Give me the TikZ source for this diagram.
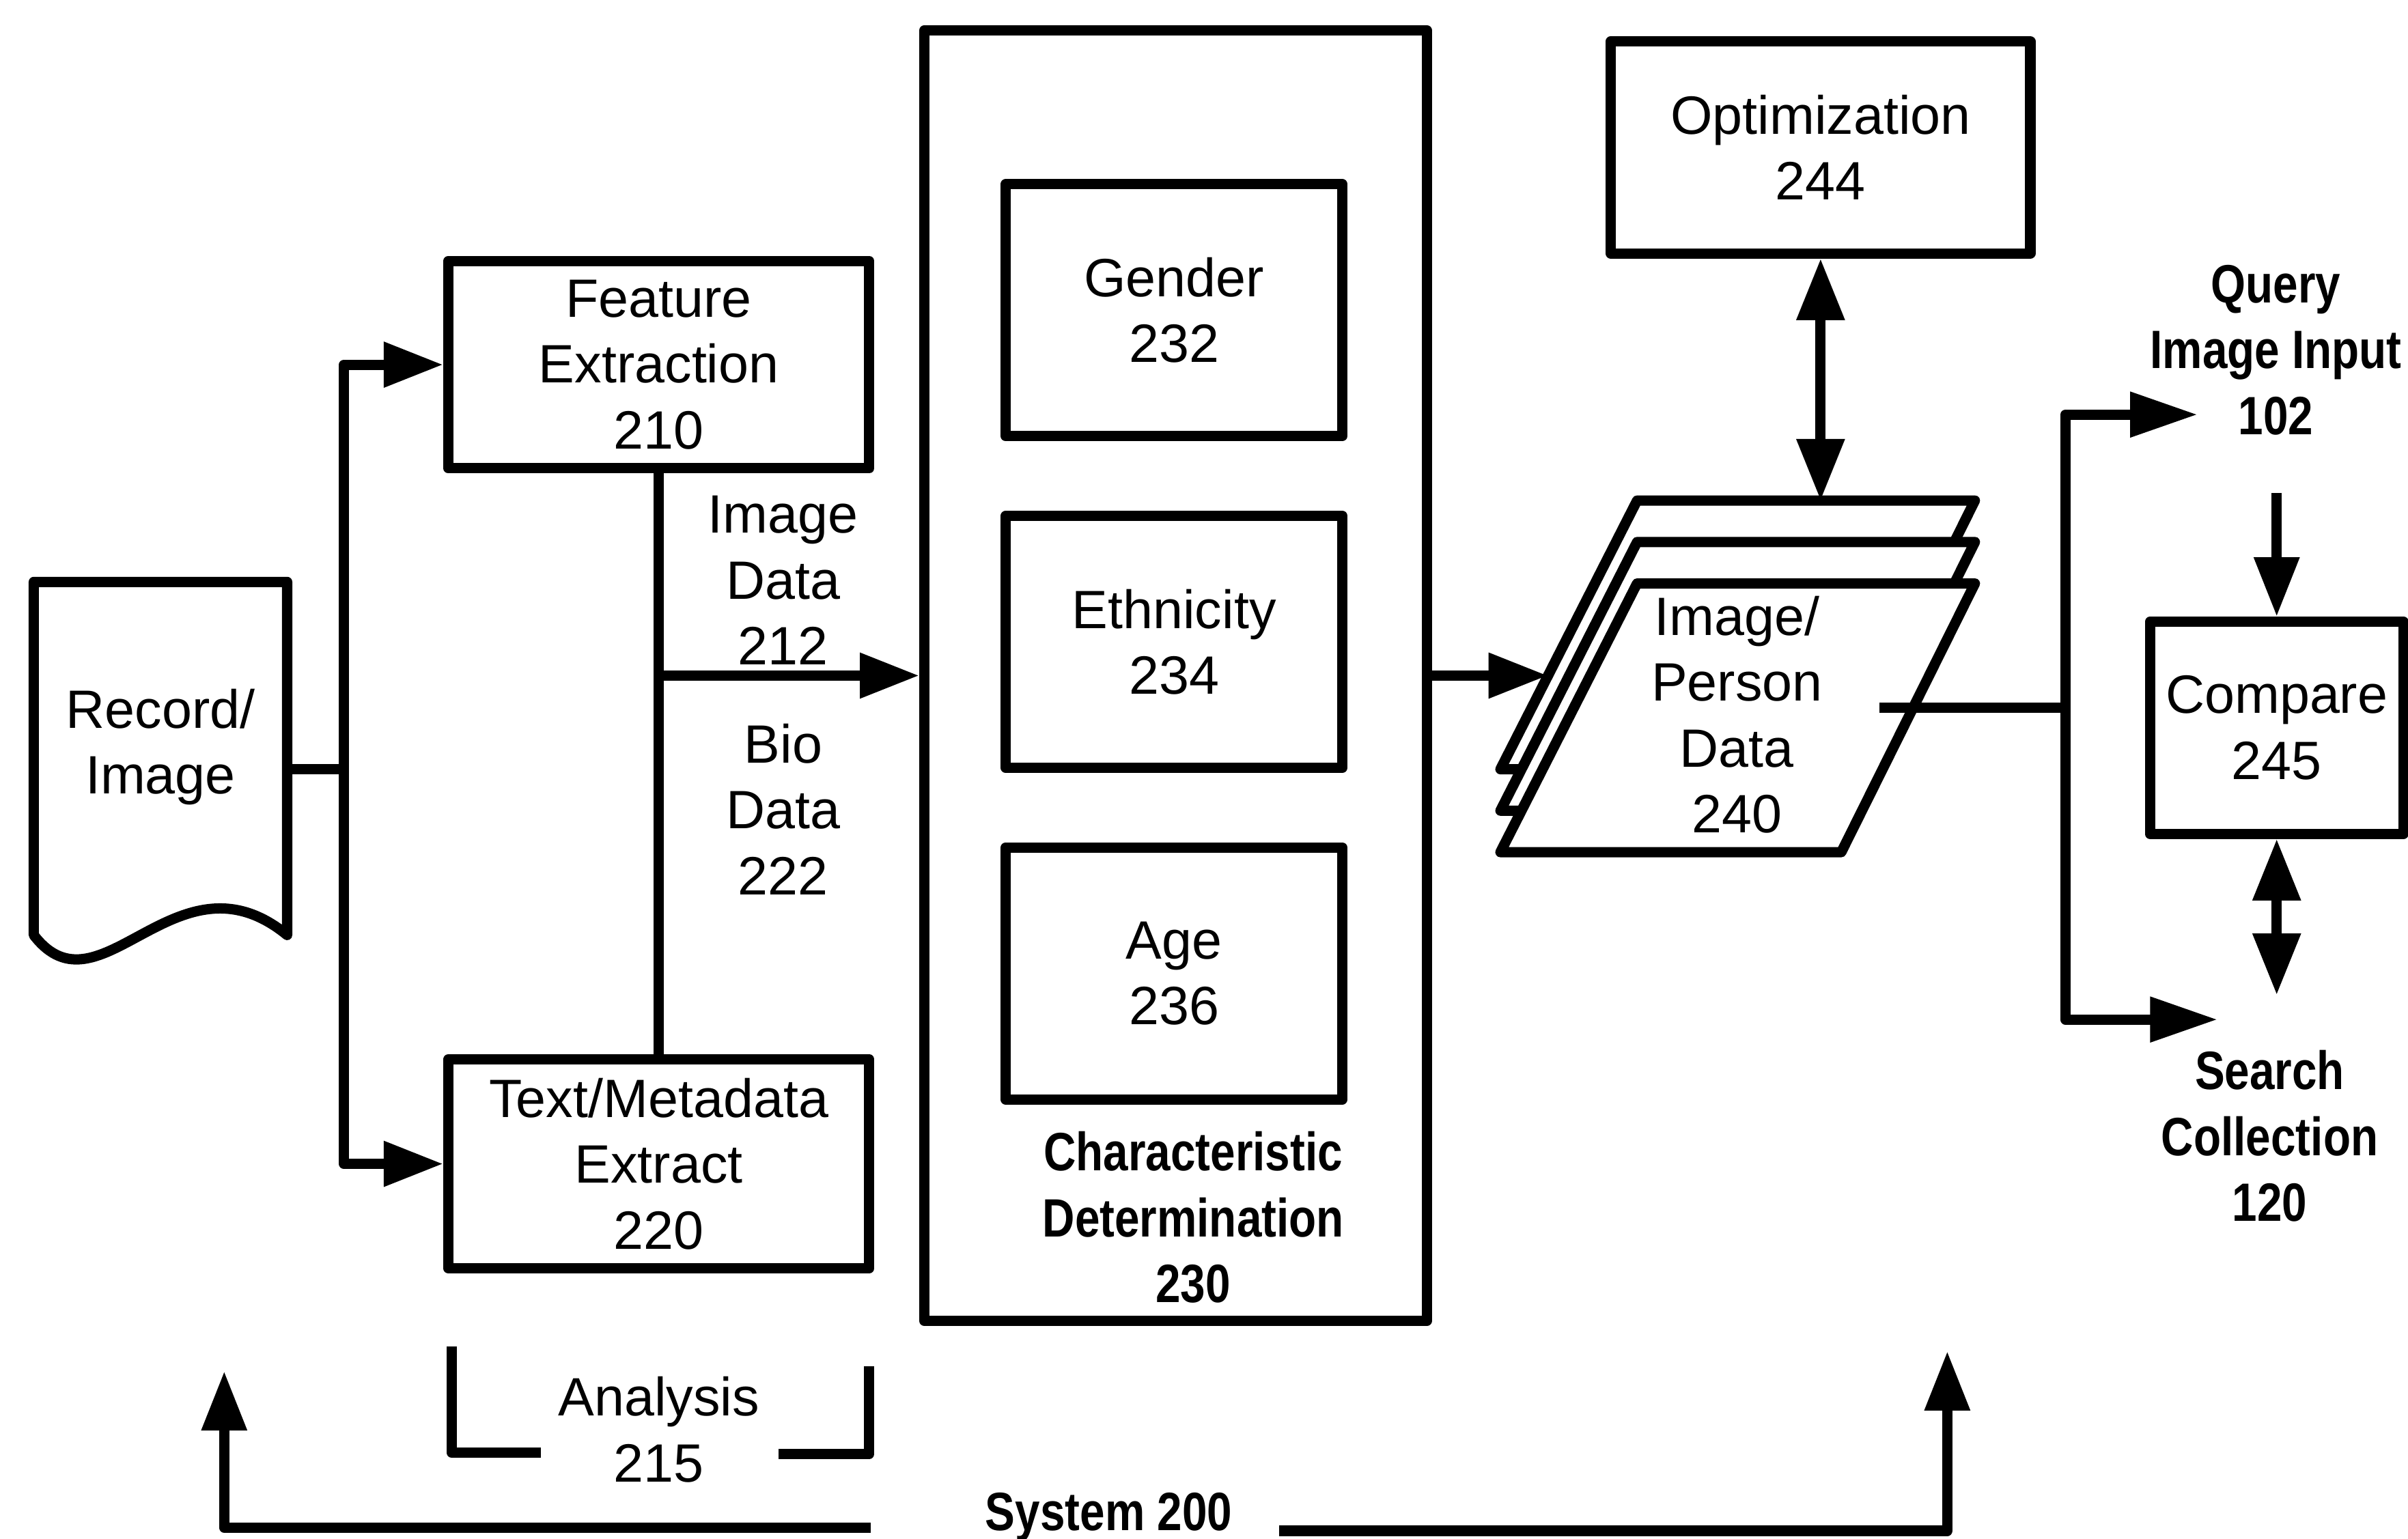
\documentclass[tikz,border=0pt]{standalone}
\usepackage{fontspec}
\setmainfont{Liberation Sans}
\newfontfamily\cbfont[FakeStretch=0.83]{Liberation Sans}
\usetikzlibrary{arrows.meta}
\begin{document}
\begin{tikzpicture}[x=0.01cm, y=-0.01cm,
  every node/.style={font=\fontsize{10}{12.2}\selectfont, align=center, inner sep=0pt},
  ln/.style={line width=1.9pt, line join=round},
  box/.style={draw, ln, fill=white},
  arr/.style={ln, -{Triangle[length=11pt,width=8pt]}},
  arrl/.style={ln, -{Triangle[length=12.5pt,width=8pt]}},
  dbl/.style={ln, {Triangle[length=11.4pt,width=8.5pt]}-{Triangle[length=11.4pt,width=8.5pt]}},
  lbl/.style={font=\cbfont\bfseries\fontsize{10}{12.2}\selectfont}]
\path[use as bounding box] (0,0) rectangle (1568,1002);

% Record / Image document
\draw[ln, fill=white] (22,609) -- (22,379) -- (187,379) -- (187,609)
  .. controls (115,550) and (65,665) .. (22,609) -- cycle;
\node (doc) at (104.5,486.5) {Record/\\Image};
\coordinate (docR) at (187,501);
\coordinate (j1) at (224,501);

% Analysis boxes
\node[box, minimum width=2.74cm, minimum height=1.35cm] (fe) at (429,237.5) {Feature\\Extraction\\210};
\node[box, minimum width=2.74cm, minimum height=1.36cm] (tm) at (429,758) {Text/Metadata\\Extract\\220};
\node (idl) at (510,378) {Image\\Data\\212};
\node (bdl) at (510,527) {Bio\\Data\\222};

% Characteristic determination
\node[box, minimum width=3.27cm, minimum height=8.4cm] (cd) at (765.5,440) {};
\node[box, minimum width=2.19cm, minimum height=1.64cm] (gen) at (764.5,202) {Gender\\232};
\node[box, minimum width=2.19cm, minimum height=1.64cm] (eth) at (764.5,418) {Ethnicity\\234};
\node[box, minimum width=2.19cm, minimum height=1.64cm] (age) at (764.5,634) {Age\\236};
\node[lbl] (cdl) at (777,793) {Characteristic\\Determination\\230};

% Optimization and compare
\node[box, minimum width=2.73cm, minimum height=1.38cm] (opt) at (1185.5,96) {Optimization\\244};
\node[box, minimum width=1.65cm, minimum height=1.38cm] (cmp) at (1482.5,474) {Compare\\245};
\node[lbl] (qry) at (1482,228) {Query\\Image Input\\102};
\node[lbl] (src) at (1478,740) {Search\\Collection\\120};

% Image/Person data stack
\foreach \dy in {-54,-27,0}
  \draw[ln, fill=white] (1066,{380+\dy}) -- (1286,{380+\dy}) -- (1199,{555+\dy}) -- (977,{555+\dy}) -- cycle;
\node (pd) at (1131,465.5) {Image/\\Person\\Data\\240};
\coordinate (pdIn) at (1008,440);
\coordinate (pdTop) at (1185.5,326);
\coordinate (pdOut) at (1224,461);

% Analysis bracket and system label
\node (ana) at (429,931) {Analysis\\215};
\draw[ln] (294,877) -- (294,946) -- (352,946);
\draw[ln] (566,890) -- (566,947) -- (507,947);
\node[lbl] (sys) at (722,988) {System 200};
\coordinate (sysA) at (567,995);
\coordinate (sysL) at (146,893);
\coordinate (sysB) at (833,997);
\coordinate (sysR) at (1268,880);

% Connectors
\draw[ln] (docR) -- (j1);
\draw[arr] (j1) |- (fe.west);
\draw[arr] (j1) |- (tm.west);
\draw[ln] (fe.south) -- (tm.north);
\coordinate (j2) at (fe.south |- cd.west);
\draw[arr] (j2) -- (cd.west);
\draw[arr] (cd.east) -- (pdIn);
\draw[dbl] (opt.south) -- (pdTop);
\coordinate (j3) at (1345,461);
\coordinate (qIn) at (1431,270);
\coordinate (sIn) at (1444,664);
\draw[ln] (pdOut) -- (j3);
\draw[arrl] (j3) |- (qIn);
\draw[arrl] (j3) |- (sIn);
\coordinate (cTop) at (1482.5,321);
\coordinate (cBot) at (1482.5,648);
\draw[arr] (cTop) -- (cmp.north);
\draw[dbl] (cmp.south) -- (cBot);
\draw[arr] (sysA) -| (sysL);
\draw[arr] (sysB) -| (sysR);
\end{tikzpicture}
\end{document}
